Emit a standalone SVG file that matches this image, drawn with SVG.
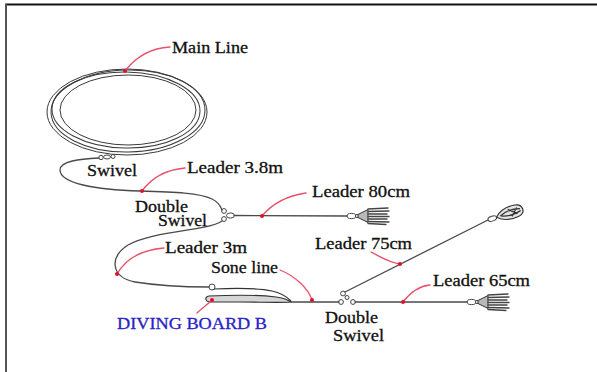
<svg xmlns="http://www.w3.org/2000/svg" width="597" height="372" viewBox="0 0 597 372">
  <style>
    .lbl { font-family: "Liberation Serif", "Times New Roman", serif; font-size: 16px; fill: #111; stroke: #111; stroke-width: 0.3; }
    .blue { fill: #2a1fc8; stroke: #2a1fc8; }
    .line { fill: none; stroke: #4a4a4a; stroke-width: 1.3; stroke-linecap: round; }
    .coil { fill: none; stroke: #3a3a3a; stroke-width: 1; }
    .ptr { fill: none; stroke: #e8506a; stroke-width: 1.3; stroke-linecap: round; }
    .dot { fill: #e0102a; }
    .ring { fill: #fff; stroke: #444; stroke-width: 1; }
    .tent { stroke: #444; stroke-width: 1.3; stroke-linecap: round; }
  </style>
  <defs>
    <!-- squid lure: swivel, head and skirt, attached at the origin, pointing +x -->
    <g id="squid">
      <ellipse class="ring" cx="4.5" cy="0" rx="4.5" ry="2.6"/>
      <circle class="ring" cx="10" cy="0" r="1.6"/>
      <path d="M11,-1.5 L21,-6.5 L21,6.5 L11,1.5 Z" fill="#b8b8b8" stroke="#333" stroke-width="1"/>
      <line class="tent" x1="21" y1="-7" x2="41" y2="-8"/>
      <line class="tent" x1="21" y1="-4.5" x2="42" y2="-5"/>
      <line class="tent" x1="21" y1="-2" x2="40" y2="-2"/>
      <line class="tent" x1="21" y1="0.5" x2="42" y2="0.5"/>
      <line class="tent" x1="21" y1="3" x2="40" y2="3"/>
      <line class="tent" x1="21" y1="5.5" x2="42" y2="6"/>
      <line class="tent" x1="21" y1="7.5" x2="39" y2="8.5"/>
    </g>
  </defs>

  <!-- frame -->
  <line x1="5" y1="4.5" x2="597" y2="4.5" stroke="#111" stroke-width="2"/>
  <line x1="6" y1="4" x2="6" y2="372" stroke="#555" stroke-width="2"/>

  <!-- main line coil -->
  <g id="main-line">
    <ellipse class="coil" cx="127" cy="112" rx="80" ry="43"/>
    <ellipse class="coil" cx="128" cy="111" rx="77" ry="41" transform="rotate(-1 128 111)"/>
    <ellipse class="coil" cx="126" cy="110" rx="74" ry="38" transform="rotate(1 126 110)"/>
    <ellipse class="coil" cx="128" cy="110" rx="68" ry="35"/>
  </g>

  <!-- top swivel -->
  <g id="swivel-top">
    <circle class="ring" cx="101" cy="157.5" r="2.2"/>
    <ellipse class="ring" cx="107" cy="157" rx="3.5" ry="2"/>
    <circle class="ring" cx="113" cy="156.5" r="2"/>
  </g>

  <!-- double swivel, first -->
  <g id="double-swivel-1">
    <circle class="ring" cx="224" cy="211" r="2.4"/>
    <circle class="ring" cx="224" cy="219" r="2.4"/>
    <ellipse class="ring" cx="230.5" cy="215.5" rx="4" ry="2.6"/>
  </g>

  <!-- diving board -->
  <g id="diving-board">
    <circle class="ring" cx="212" cy="287" r="3"/>
    <path d="M214,289 C235,288 258,288 272,291 C282,293 287,297 291,301" fill="none" stroke="#333" stroke-width="1.2"/>
    <path d="M209,296 C230,295 260,295 276,297 C284,298 288,300 291,302 C280,303 260,302 240,302 L211,302 C205,302 204,297 209,296 Z" fill="#d6d6d6" stroke="#333" stroke-width="1.1"/>
  </g>

  <!-- double swivel, second (three-way) -->
  <g id="double-swivel-2">
    <circle class="ring" cx="343" cy="293.5" r="2.4"/>
    <circle class="ring" cx="341" cy="302" r="2.4"/>
    <circle class="ring" cx="347" cy="297.5" r="2"/>
    <circle class="ring" cx="353" cy="302" r="2.4"/>
  </g>

  <!-- lures -->
  <g id="lure-80"><use href="#squid" transform="translate(347 216)"/></g>
  <g id="lure-65"><use href="#squid" transform="translate(467 302)"/></g>
  <g id="lure-75" transform="translate(488 220) rotate(-18)">
    <ellipse class="ring" cx="4.5" cy="0" rx="4.5" ry="2.4"/>
    <path d="M9,0 C14,-5 22,-7 30,-6 C38,-5 39,5 30,6 C22,7 14,5 9,0 Z" fill="#e4e4e4" stroke="#333" stroke-width="1.2"/>
    <path d="M13,0 C20,-3 28,-3 34,-1 M13,0 C20,3 28,3 34,1 M22,-4 L30,3 M24,4 L31,-3" fill="none" stroke="#333" stroke-width="1.2"/>
  </g>

  <!-- connectors -->
  <g id="connectors">
    <!-- leader 3.8m: swivel to first double swivel -->
    <path class="line" d="M99,158 C80,159 60,161 60,170 C60,183 95,190 140,191 C175,192 200,193 212,199 C220,203 221,208 222,210"/>
    <!-- leader 80cm -->
    <line class="line" x1="234" y1="215.5" x2="347" y2="216"/>
    <!-- leader 3m: double swivel down to diving board -->
    <path class="line" d="M222,221 C205,232 155,230 128,245 C108,258 112,278 135,282 C160,286 190,287 209,287"/>
    <!-- sone line -->
    <path class="line" d="M291,302 L339,302" stroke-width="1.6"/>
    <!-- leader 75cm -->
    <line class="line" x1="345" y1="292" x2="488" y2="220"/>
    <!-- leader 65cm -->
    <line class="line" x1="355" y1="302" x2="467" y2="302"/>
  </g>

  <!-- label pointers -->
  <g id="pointers">
    <path class="ptr" d="M125,71 C135,58 150,48 170,47"/>
    <circle class="dot" cx="125" cy="71" r="2"/>
    <path class="ptr" d="M142,191 C150,180 162,170 185,168"/>
    <circle class="dot" cx="142" cy="191" r="2"/>
    <path class="ptr" d="M262,216 C272,204 285,196 306,193"/>
    <circle class="dot" cx="262" cy="216" r="2"/>
    <path class="ptr" d="M117,274 C125,260 140,250 164,248"/>
    <circle class="dot" cx="117" cy="274" r="2"/>
    <path class="ptr" d="M280,270 C295,276 308,288 312,300"/>
    <circle class="dot" cx="312" cy="300" r="2"/>
    <path class="ptr" d="M212,300 C207,305 201,309 197,313"/>
    <circle class="dot" cx="212" cy="300" r="2"/>
    <path class="ptr" d="M371,252 C382,258 391,263 400,264"/>
    <circle class="dot" cx="400" cy="264" r="2"/>
    <path class="ptr" d="M403,302 C410,293 418,286 430,285"/>
    <circle class="dot" cx="403" cy="302" r="2"/>
  </g>

  <!-- labels -->
  <g id="labels">
    <text class="lbl" x="172" y="53" textLength="76" lengthAdjust="spacingAndGlyphs">Main Line</text>
    <text class="lbl" x="87" y="176" textLength="50" lengthAdjust="spacingAndGlyphs">Swivel</text>
    <text class="lbl" x="187" y="173" textLength="96" lengthAdjust="spacingAndGlyphs">Leader 3.8m</text>
    <text class="lbl" x="135" y="212" textLength="53" lengthAdjust="spacingAndGlyphs">Double</text>
    <text class="lbl" x="158" y="226" textLength="49" lengthAdjust="spacingAndGlyphs">Swivel</text>
    <text class="lbl" x="312" y="197" textLength="98" lengthAdjust="spacingAndGlyphs">Leader 80cm</text>
    <text class="lbl" x="165" y="253" textLength="82" lengthAdjust="spacingAndGlyphs">Leader 3m</text>
    <text class="lbl" x="211" y="273" textLength="67" lengthAdjust="spacingAndGlyphs">Sone line</text>
    <text class="lbl blue" x="117" y="329" textLength="150" lengthAdjust="spacingAndGlyphs">DIVING BOARD B</text>
    <text class="lbl" x="315" y="249" textLength="97" lengthAdjust="spacingAndGlyphs">Leader 75cm</text>
    <text class="lbl" x="433" y="286" textLength="97" lengthAdjust="spacingAndGlyphs">Leader 65cm</text>
    <text class="lbl" x="325" y="323" textLength="53" lengthAdjust="spacingAndGlyphs">Double</text>
    <text class="lbl" x="333" y="341" textLength="51" lengthAdjust="spacingAndGlyphs">Swivel</text>
  </g>
</svg>
